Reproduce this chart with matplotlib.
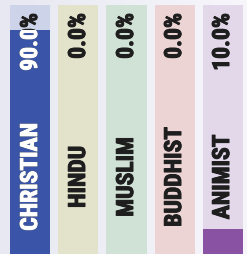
import numpy as np
import matplotlib.pyplot as plt
import matplotlib.patheffects as pe
from matplotlib.colors import LinearSegmentedColormap
from matplotlib.transforms import Bbox, TransformedBbox

plt.rcParams['font.family'] = ['Roboto Condensed', 'Barlow Condensed', 'DejaVu Sans']

# data
religions = ['CHRISTIAN', 'HINDU', 'MUSLIM', 'BUDDHIST', 'ANIMIST']
shares = [90.0, 0.0, 0.0, 0.0, 10.0]
bar_colors = ['#3a55a8', '#c9b84a', '#5e9e70', '#d67a7a', '#8a52a3']
track_colors = ['#cdd3e8', '#e3e2ca', '#d0e1d6', '#ecd4d4', '#e2d8ea']

fig = plt.figure(figsize=(2.47, 2.54), dpi=100)
ax = fig.add_axes([0, 0, 1, 1])
ax.set_xlim(-0.635, 4.51)
ax.set_ylim(0, 102.0)
ax.axis('off')

# background gradient, left to right
bg = LinearSegmentedColormap.from_list('bg', ['#e8e8f2', '#f6f6fb'])
ax.imshow(np.linspace(0, 1, 256).reshape(1, -1), cmap=bg, aspect='auto',
          extent=[0, 1, 0, 1], transform=ax.transAxes, zorder=0)

x = np.arange(len(religions))
width = 40 / 48
ax.bar(x, [100] * len(x), width=width, color=track_colors, zorder=1)
ax.bar(x, shares, width=width, color=bar_colors, zorder=2)


def label(xi, yi, s, va, color, box=None):
    t = ax.text(xi, yi, s, rotation=90, ha='center', va=va, color=color,
                fontsize=17, fontweight='heavy', zorder=3 if box is None else 4)
    # slightly heavier strokes, like the original
    t.set_path_effects([pe.withStroke(linewidth=0.7, foreground=color)])
    if box is not None:
        t.set_clip_on(True)
        t.set_clip_path(None)
        t.set_clip_box(box)
    return t


for i, (name, val) in enumerate(zip(religions, shares)):
    txt = f'{val:.1f}%'
    label(i, 96.8, txt, 'top', '#1e1e1e')
    label(i, 31.0, name, 'center', '#1e1e1e')
    if val > 0:
        # white where the text sits on the filled bar
        box = TransformedBbox(Bbox([[i - width / 2, 0], [i + width / 2, val]]), ax.transData)
        label(i, 96.8, txt, 'top', 'white', box)
        label(i, 31.0, name, 'center', 'white', box)

fig.savefig('out.png', dpi=100)
